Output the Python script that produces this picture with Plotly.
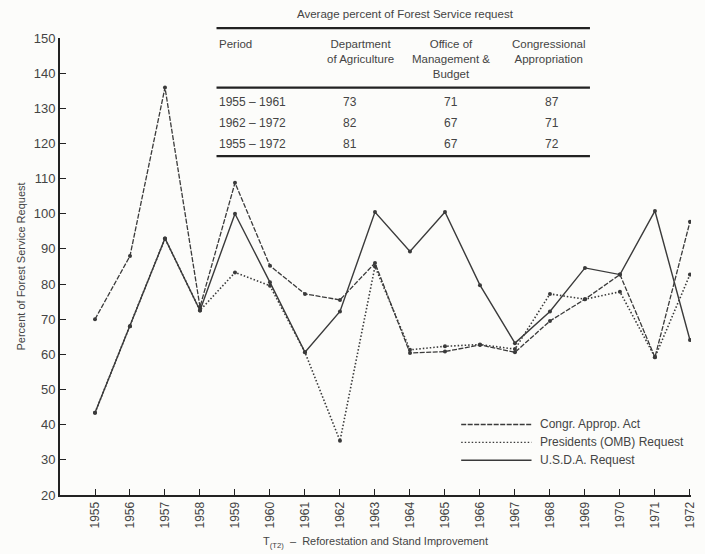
import plotly.graph_objects as go

# =====================
# data
# =====================
years = [1955, 1956, 1957, 1958, 1959, 1960, 1961, 1962, 1963,
         1964, 1965, 1966, 1967, 1968, 1969, 1970, 1971, 1972]

congr_approp = [70, 88, 135.9, 73.5, 108.8, 85.2, 77.2, 75.5, 86,
                60.4, 60.8, 62.7, 60.6, 69.5, 75.7, 82.7, 59.2, 97.7]
omb_request = [43.4, 68, 93, 72.5, 83.3, 79.5, 60.6, 35.4, 85,
               61.3, 62.3, 62.8, 61.5, 77.2, 75.7, 77.8, 59.2, 82.7]
usda_request = [43.4, 68, 93, 72.5, 100, 80.5, 60.6, 72.2, 100.5,
                89.3, 100.5, 79.7, 63.2, 72.2, 84.6, 82.7, 100.8, 64.1]

table_title = "Average percent of Forest Service request"
table_header = ["Period", "Department<br>of Agriculture",
                "Office of<br>Management &<br>Budget",
                "Congressional<br>Appropriation"]
table_periods = ["1955 – 1961", "1962 – 1972", "1955 – 1972"]
table_agri = [73, 82, 81]
table_omb = [71, 67, 67]
table_congr = [87, 71, 72]

legend_names = ["Congr. Approp. Act", "Presidents (OMB) Request", "U.S.D.A. Request"]

INK = "#3a3a3a"
TXT = "#444444"
FONT = "Liberation Sans, Arial, sans-serif"
DASH = "5px,1.5px"
DOT = "1.5px,2px"

W, H = 705, 554
L, R, T, B = 60, 8, 38, 56


def px(x):
    return (x - L) / (W - L - R)


def py(y):
    return (H - B - y) / (H - T - B)


fig = go.Figure()

fig.add_scatter(x=years, y=congr_approp, mode="lines+markers",
                line=dict(color=INK, width=1.3, dash=DASH),
                marker=dict(size=4, color=INK), name=legend_names[0])
fig.add_scatter(x=years, y=omb_request, mode="lines+markers",
                line=dict(color=INK, width=1.6, dash=DOT),
                marker=dict(size=4, color=INK), name=legend_names[1])
fig.add_scatter(x=years, y=usda_request, mode="lines+markers",
                line=dict(color=INK, width=1.4),
                marker=dict(size=4, color=INK), name=legend_names[2])

# --- table drawn over the plot ---
annotations = []
shapes = []


def label(text, x, y, size=12, xanchor="center", yanchor="middle", align="center"):
    annotations.append(dict(text=text, x=px(x), y=py(y), xref="paper", yref="paper",
                            xanchor=xanchor, yanchor=yanchor, align=align,
                            showarrow=False, font=dict(size=size, color=TXT)))


label(table_title, 409, 14, size=11.5)
for ly in [28, 88, 157]:
    shapes.append(dict(type="line", xref="paper", yref="paper",
                       x0=px(218), x1=px(595), y0=py(ly), y1=py(ly),
                       line=dict(color="#222", width=2.2)))

col_x = [218, 363, 455, 554]
for i, h in enumerate(table_header):
    if i == 0:
        label(h, col_x[i], 36, size=11.5, xanchor="left", yanchor="top", align="left")
    else:
        label(h, col_x[i], 36, size=11.5, yanchor="top")

row_y = [102, 124, 145]
val_x = [353, 455, 557]
for r in range(3):
    label(table_periods[r], 218, row_y[r], xanchor="left")
    for c, col in enumerate([table_agri, table_omb, table_congr]):
        label(str(col[r]), val_x[c], row_y[r])

# --- legend (bottom right) ---
leg_y = [427, 445, 463]
for i, name in enumerate(legend_names):
    shapes.append(dict(type="line", xref="paper", yref="paper",
                       x0=px(465), x1=px(536), y0=py(leg_y[i]), y1=py(leg_y[i]),
                       line=dict(color=INK, width=1.4, dash=[DASH, DOT, "solid"][i])))
    label(name, 543, leg_y[i], xanchor="left")

fig.update_layout(
    width=W, height=H,
    margin=dict(l=L, r=R, t=T, b=B),
    paper_bgcolor="#fcfcfa", plot_bgcolor="#fcfcfa",
    font=dict(family=FONT, color=TXT),
    showlegend=False,
    annotations=annotations,
    shapes=shapes,
)

fig.update_xaxes(
    range=[1954, 1972.03],
    tickmode="array", tickvals=years, ticktext=[str(y) for y in years],
    tickangle=-90, tickfont=dict(size=12, color=TXT),
    ticks="inside", ticklen=6, tickcolor="#222",
    showline=True, linecolor="#222", linewidth=2,
    showgrid=False, zeroline=False,
    title=dict(text="T<sub>(T2)</sub>  –  Reforestation and Stand Improvement",
               font=dict(size=11, color=TXT), standoff=10),
)

fig.update_yaxes(
    range=[20, 150], dtick=10,
    tickfont=dict(size=13, color=TXT),
    ticks="inside", ticklen=6, tickcolor="#222",
    showline=True, linecolor="#222", linewidth=2,
    showgrid=False, zeroline=False,
    title=dict(text="Percent of Forest Service Request",
               font=dict(size=11, color=TXT), standoff=6),
)

# the page has a default 8px body margin; drop it so the figure fills the window
fig.write_html("out.html", config={"displayModeBar": False},
               post_script="document.body.style.margin='0';")
